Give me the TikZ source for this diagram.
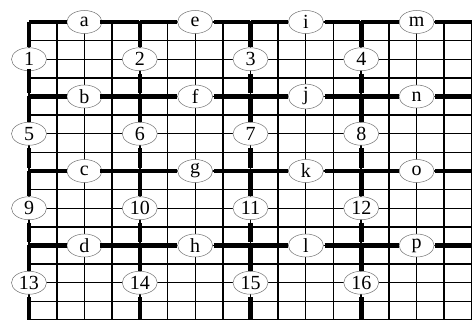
\documentclass[tikz,border=0pt]{standalone}
\usepackage{fontspec}
\setmainfont{Liberation Serif}
\usetikzlibrary{shapes.geometric}
\begin{document}
\begin{tikzpicture}[x=27.6875pt,y=-18.625pt,
  gridmajor/.style={line width=1.7pt},
  gridminor/.style={line width=0.9pt},
  gridrow/.style={line width=1.4pt},
  bold/.style={line width=4.5pt},
  lab/.style={ellipse, draw=black!55, line width=0.5pt, fill=white, inner sep=0pt,
    minimum width=35pt, minimum height=23pt, font=\fontsize{20}{20}\selectfont}]
\useasboundingbox (-29pt,22pt) rectangle (443pt,-298pt);
\fill[white] (-29pt,22pt) rectangle (443pt,-298pt);
% thin grid
\foreach \i in {0,...,16} {
  \pgfmathtruncatemacro\m{mod(\i,4)}
  \ifnum\m=2 \draw[gridminor] (\i,0) -- (\i,16); \else \draw[gridmajor] (\i,0) -- (\i,16); \fi
}
\foreach \j in {0,...,16} \draw[gridrow] (0,\j) -- (16,\j);
% block corners
\foreach \i in {0,...,4} \foreach \j in {0,...,4} \coordinate (p\i\j) at (4*\i,4*\j);
% letter nodes
\foreach \l [count=\k from 0] in {a,b,c,d,e,f,g,h,i,j,k,l,m,n,o,p} {
  \pgfmathtruncatemacro\ci{div(\k,4)}
  \pgfmathtruncatemacro\rj{mod(\k,4)}
  \node[lab] (\l) at (4*\ci+2,4*\rj) {\l};
}
% number nodes
\foreach \n in {1,...,16} {
  \pgfmathtruncatemacro\ci{mod(\n-1,4)}
  \pgfmathtruncatemacro\rj{div(\n-1,4)}
  \node[lab] (n\n) at (4*\ci,4*\rj+2) {\n};
}
% thick horizontal segments through letters
\foreach \l [count=\k from 0] in {a,b,c,d,e,f,g,h,i,j,k,l,m,n,o,p} {
  \pgfmathtruncatemacro\ci{div(\k,4)}
  \pgfmathtruncatemacro\cii{div(\k,4)+1}
  \pgfmathtruncatemacro\rj{mod(\k,4)}
  \ifnum\ci=0 \def\sa{-2.25pt}\else\def\sa{1pt}\fi
  \ifnum\ci=3 \def\sb{0pt}\else\def\sb{1pt}\fi
  \draw[bold, shorten <=\sa, shorten >=\sb] (p\ci\rj) -- (\l) -- (p\cii\rj);
}
% thick vertical segments through numbers
\foreach \n in {1,...,16} {
  \pgfmathtruncatemacro\ci{mod(\n-1,4)}
  \pgfmathtruncatemacro\rj{div(\n-1,4)}
  \pgfmathtruncatemacro\rjj{div(\n-1,4)+1}
  \pgfmathtruncatemacro\corner{\ci+\rj}
  \ifnum\corner=0 \def\sa{-2.25pt}\else\def\sa{3pt}\fi
  \ifnum\rj=3 \def\sb{0pt}\else\def\sb{3pt}\fi
  \draw[bold, shorten <=\sa, shorten >=\sb] (p\ci\rj) -- (n\n) -- (p\ci\rjj);
}
\end{tikzpicture}
\end{document}
